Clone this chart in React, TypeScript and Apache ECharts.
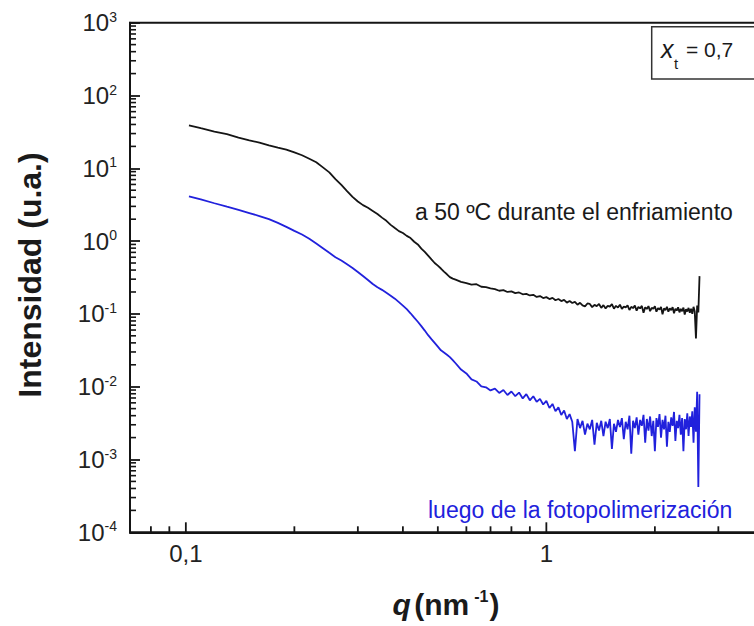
import React, { useEffect, useRef } from 'react';
import * as echarts from 'echarts';

// q (nm^-1)
const qValues = [
  0.102, 0.11, 0.12, 0.13, 0.14, 0.15, 0.16, 0.17, 0.18, 0.19,
  0.2, 0.21, 0.22, 0.23, 0.24, 0.25, 0.26, 0.27, 0.28, 0.29,
  0.3, 0.31, 0.32, 0.33, 0.34, 0.35, 0.36, 0.37, 0.38, 0.39,
  0.4, 0.41, 0.42, 0.43, 0.44, 0.45, 0.46, 0.47, 0.48, 0.49,
  0.5, 0.51, 0.52, 0.53, 0.54, 0.55,
  0.56, 0.58, 0.6, 0.62, 0.64, 0.66, 0.68, 0.7, 0.72, 0.74,
  0.76, 0.78, 0.8, 0.82, 0.84, 0.86, 0.88, 0.9, 0.92, 0.94,
  0.96, 0.98, 1, 1.02, 1.04, 1.06, 1.08, 1.1, 1.12, 1.14,
  1.16, 1.18, 1.2, 1.22, 1.24, 1.26, 1.28, 1.3, 1.32, 1.34,
  1.36, 1.38, 1.4, 1.42, 1.44, 1.46, 1.48, 1.5, 1.52, 1.54,
  1.56, 1.58, 1.6, 1.62, 1.64, 1.66, 1.68, 1.7, 1.72, 1.74,
  1.76, 1.78, 1.8, 1.82, 1.84, 1.86, 1.88, 1.9, 1.92, 1.94,
  1.96, 1.98, 2, 2.02, 2.04, 2.06, 2.08, 2.1, 2.12, 2.14,
  2.16, 2.18, 2.2, 2.22, 2.24, 2.26, 2.28, 2.3, 2.32, 2.34,
  2.36, 2.38, 2.4, 2.42, 2.44, 2.46, 2.48, 2.5, 2.52, 2.54,
  2.56, 2.58, 2.6, 2.62, 2.64, 2.66,
];

// "a 50 ºC durante el enfriamiento"
const coolingValues = [
  39, 35.5, 32, 29.4, 26.4, 24.2, 22.5, 20.7, 19.3, 18.1,
  16.5, 15.1, 13.5, 12.1, 10.3, 8.8, 7.1, 5.9, 4.85, 4.05,
  3.5, 3.12, 2.87, 2.6, 2.36, 2.1, 1.9, 1.67, 1.51, 1.37,
  1.29, 1.18, 1.1, 0.98, 0.9, 0.79, 0.71, 0.63, 0.56, 0.5,
  0.46, 0.42, 0.38, 0.35, 0.32, 0.305,
  0.296, 0.276, 0.265, 0.252, 0.256, 0.236, 0.233, 0.224, 0.219, 0.208,
  0.212, 0.2, 0.204, 0.193, 0.197, 0.186, 0.188, 0.179, 0.183, 0.171,
  0.176, 0.165, 0.17, 0.16, 0.166, 0.154, 0.16, 0.15, 0.156, 0.143,
  0.15, 0.141, 0.146, 0.134, 0.142, 0.131, 0.127, 0.139, 0.137, 0.124,
  0.133, 0.128, 0.137, 0.121, 0.132, 0.119, 0.129, 0.126, 0.136, 0.118,
  0.129, 0.122, 0.134, 0.117, 0.126, 0.123, 0.131, 0.113, 0.125, 0.12,
  0.13, 0.111, 0.125, 0.119, 0.129, 0.104, 0.123, 0.117, 0.128, 0.109,
  0.121, 0.118, 0.127, 0.107, 0.12, 0.115, 0.125, 0.099, 0.119, 0.113,
  0.125, 0.107, 0.119, 0.113, 0.124, 0.102, 0.118, 0.111, 0.123, 0.105,
  0.117, 0.109, 0.122, 0.098, 0.116, 0.108, 0.121, 0.104, 0.118, 0.1,
  0.125, 0.108, 0.046, 0.13, 0.105, 0.33,
];

// "luego de la fotopolimerización"
const polymerValues = [
  4.12, 3.73, 3.31, 2.97, 2.69, 2.43, 2.21, 2.0, 1.78, 1.57,
  1.38, 1.23, 1.08, 0.93, 0.8, 0.69, 0.6, 0.54, 0.48, 0.427,
  0.376, 0.331, 0.292, 0.257, 0.232, 0.214, 0.195, 0.178, 0.162, 0.145,
  0.13, 0.116, 0.102, 0.089, 0.078, 0.068, 0.059, 0.051, 0.045, 0.04,
  0.0355, 0.0316, 0.0295, 0.0275, 0.0255, 0.0232,
  0.021, 0.0172, 0.0152, 0.0126, 0.0118, 0.0101, 0.0098, 0.0089, 0.0094, 0.0082,
  0.009, 0.0077, 0.0086, 0.0074, 0.0083, 0.0069, 0.0079, 0.0065, 0.0074, 0.0062,
  0.0068, 0.0057, 0.0064, 0.0051, 0.0058, 0.0046, 0.0052, 0.0041, 0.0047, 0.0036,
  0.0042, 0.0033, 0.0013, 0.0036, 0.0027, 0.0034, 0.0022, 0.0031, 0.0026, 0.0035,
  0.0016, 0.0032, 0.0025, 0.0034, 0.0021, 0.0033, 0.0027, 0.0036, 0.0014, 0.0031,
  0.0024, 0.0035, 0.0028, 0.0037, 0.0019, 0.0033, 0.0026, 0.004, 0.0012, 0.0034,
  0.0027, 0.0038, 0.0022, 0.0035, 0.0029, 0.0041, 0.0017, 0.0036, 0.0025, 0.0039,
  0.0021, 0.0034, 0.0013, 0.0037, 0.0028, 0.0042, 0.002, 0.0035, 0.0026, 0.004,
  0.0015, 0.0033, 0.0024, 0.0038, 0.0029, 0.0045, 0.0018, 0.0034, 0.0027, 0.0041,
  0.0022, 0.0037, 0.0013, 0.0036, 0.0026, 0.0043, 0.0021, 0.0039, 0.0028, 0.0046,
  0.0017, 0.0052, 0.0024, 0.0085, 0.00042, 0.0079,
];

const X_MIN = 0.07;
const X_MAX = 4;
const Y_MIN = 1e-4;
const Y_MAX = 1e3;
const xMajorTicks = [0.1, 1];
const xMinorTicks = [0.08, 0.09, 0.2, 0.3, 0.4, 0.5, 0.6, 0.7, 0.8, 0.9, 2, 3];
const yDecades = [1e-4, 1e-3, 1e-2, 1e-1, 1, 10, 100];
const minorMultipliers = [2, 3, 4, 5, 6, 7, 8, 9];
const xTickLabels: Record<string, string> = { '-1': '0,1', '0': '1' };

const FONT = 'Liberation Sans, Arial, Helvetica, sans-serif';
const BLUE = '#2121dc';
const INK = '#151515';

export default function App() {
  const ref = useRef<HTMLDivElement>(null);
  useEffect(() => {
    if (!ref.current) return;
    const chart = echarts.init(ref.current, undefined, { renderer: 'svg' });
    const yMinor: number[][] = [];
    yDecades.forEach((d) => minorMultipliers.forEach((m) => yMinor.push([X_MIN, d * m])));
    const xTicks = [
      ...xMajorTicks.map((v) => [v, Y_MIN, 10]),
      ...xMinorTicks.map((v) => [v, Y_MIN, 6]),
    ];
    const option: any = {
      animation: false,
      backgroundColor: '#ffffff',
      textStyle: { fontFamily: FONT },
      grid: {
        left: 130,
        top: 22.7,
        right: 36.6,
        bottom: 93.7,
        show: true,
        borderColor: INK,
        borderWidth: 2,
        containLabel: false,
        outerBoundsMode: 'none',
      },
      xAxis: {
        type: 'log',
        logBase: 10,
        min: X_MIN,
        max: X_MAX,
        splitNumber: 2,
        axisLine: { lineStyle: { color: INK, width: 2 } },
        axisTick: { show: false },
        splitLine: { show: false },
        axisLabel: {
          margin: 9,
          fontSize: 24,
          color: '#222',
          fontFamily: FONT,
          formatter: (v: number) => {
            const l = Math.log10(v);
            const r = Math.round(l);
            if (Math.abs(l - r) > 1e-6) return '';
            return xTickLabels[String(r)] ?? '';
          },
        },
      },
      yAxis: {
        type: 'log',
        logBase: 10,
        min: Y_MIN,
        max: Y_MAX,
        splitNumber: 7,
        axisLine: { lineStyle: { color: INK, width: 2 } },
        axisTick: { show: true, inside: true, length: 10, lineStyle: { color: INK, width: 1.8 } },
        splitLine: { show: false },
        axisLabel: {
          margin: 13,
          formatter: (v: number) => {
            const e = Math.round(Math.log10(v));
            return `{b|10}{e|${e}}`;
          },
          rich: {
            b: { fontSize: 24, lineHeight: 26, color: '#222', fontFamily: FONT },
            e: { fontSize: 14, lineHeight: 14, color: '#222', fontFamily: FONT, verticalAlign: 'top' },
          },
        },
      },
      series: [
        {
          type: 'line',
          name: 'a 50 ºC durante el enfriamiento',
          data: qValues.map((q, i) => [q, coolingValues[i]]),
          showSymbol: false,
          symbol: 'none',
          lineStyle: { color: INK, width: 1.8 },
          z: 3,
        },
        {
          type: 'line',
          name: 'luego de la fotopolimerización',
          data: qValues.map((q, i) => [q, polymerValues[i]]),
          showSymbol: false,
          symbol: 'none',
          lineStyle: { color: BLUE, width: 1.8 },
          z: 3,
        },
        {
          type: 'custom',
          silent: true,
          clip: false,
          z: 5,
          data: yMinor,
          renderItem: (_p: any, api: any) => {
            const p = api.coord([api.value(0), api.value(1)]);
            return {
              type: 'line',
              shape: { x1: p[0], y1: p[1], x2: p[0] + 6, y2: p[1] },
              style: { stroke: INK, lineWidth: 1.6 },
            };
          },
        },
        {
          type: 'custom',
          silent: true,
          clip: false,
          z: 5,
          data: xTicks,
          renderItem: (_p: any, api: any) => {
            const p = api.coord([api.value(0), api.value(1)]);
            const len = api.value(2);
            return {
              type: 'line',
              shape: { x1: p[0], y1: p[1], x2: p[0], y2: p[1] - len },
              style: { stroke: INK, lineWidth: 1.8 },
            };
          },
        },
      ],
      graphic: [
        {
          type: 'text',
          x: 30,
          y: 275,
          rotation: Math.PI / 2,
          style: {
            text: 'Intensidad (u.a.)',
            font: `bold 32px ${FONT}`,
            fill: '#1a1a1a',
            align: 'center',
            verticalAlign: 'middle',
          },
        },
        {
          type: 'text',
          x: 446,
          y: 604,
          style: {
            text: '{q|q} {p|(nm}{s|-1}{p|)}',
            align: 'center',
            verticalAlign: 'middle',
            fill: '#1a1a1a',
            rich: {
              q: { fontSize: 30, fontWeight: 'bold', fontStyle: 'italic', fontFamily: FONT, lineHeight: 32 },
              p: { fontSize: 30, fontWeight: 'bold', fontFamily: FONT, lineHeight: 32 },
              s: { fontSize: 16, fontWeight: 'bold', fontFamily: FONT, lineHeight: 16, verticalAlign: 'top', padding: [0, 1, 0, 5] },
            },
          },
        },
        {
          type: 'text',
          x: 415,
          y: 212,
          style: {
            text: 'a 50 ºC durante el enfriamiento',
            font: `23px ${FONT}`,
            fill: '#1a1a1a',
            align: 'left',
            verticalAlign: 'middle',
          },
        },
        {
          type: 'text',
          x: 428,
          y: 510,
          style: {
            text: 'luego de la fotopolimerización',
            font: `23px ${FONT}`,
            fill: BLUE,
            align: 'left',
            verticalAlign: 'middle',
          },
        },
        {
          type: 'rect',
          shape: { x: 651.7, y: 26.7, width: 104, height: 52.3 },
          style: { fill: '#ffffff', stroke: null, lineWidth: 0 },
          z: 10,
        },
        {
          type: 'polyline',
          shape: { points: [[790, 26.7], [651.7, 26.7], [651.7, 79], [790, 79]] },
          style: { fill: null, stroke: '#333333', lineWidth: 1.5 },
          z: 10,
        },
        {
          type: 'text',
          x: 661,
          y: 49,
          z: 11,
          style: {
            text: 'x',
            font: `italic 25px ${FONT}`,
            fill: '#1a1a1a',
            align: 'left',
            verticalAlign: 'middle',
          },
        },
        {
          type: 'text',
          x: 674,
          y: 63,
          z: 11,
          style: {
            text: 't',
            font: `15px ${FONT}`,
            fill: '#1a1a1a',
            align: 'left',
            verticalAlign: 'middle',
          },
        },
        {
          type: 'text',
          x: 686,
          y: 49,
          z: 11,
          style: {
            text: '= 0,7',
            font: `21px ${FONT}`,
            fill: '#1a1a1a',
            align: 'left',
            verticalAlign: 'middle',
          },
        },
      ],
    };
    chart.setOption(option);
    return () => chart.dispose();
  }, []);
  return (
    <div style={{ position: 'fixed', left: 0, top: 0, width: 754, height: 626, overflow: 'hidden', background: '#fff' }}>
      <div ref={ref} style={{ width: 800, height: 626 }} />
    </div>
  );
}
